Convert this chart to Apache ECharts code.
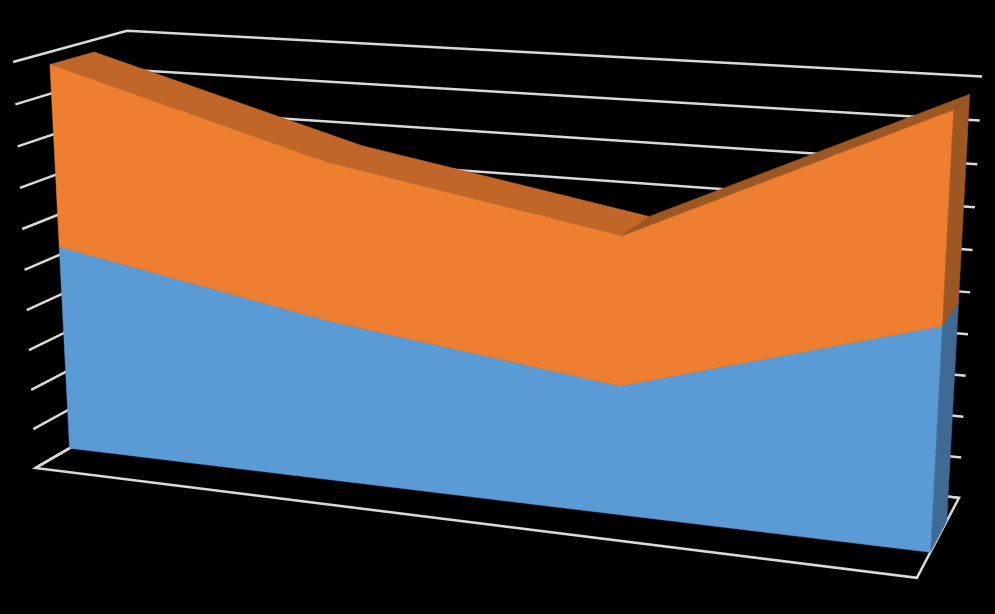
<!DOCTYPE html>
<html><head><meta charset="utf-8">
<style>html,body{margin:0;padding:0;background:#000}#c{width:995px;height:614px}</style>
<script src="https://cdn.jsdelivr.net/npm/echarts@6/dist/echarts.min.js"></script>
</head><body><div id="c"></div>
<script>
// Data
var categories = ['Category 1', 'Category 2', 'Category 3', 'Category 4'];
var seriesBlue = [5.2, 3.97, 3.1, 5.18];
var seriesOrange = [4.5, 3.83, 3.5, 4.69];
var axisTicks = [0, 1, 2, 3, 4, 5, 6, 7, 8, 9, 10];

// Camera: world (u along categories, v up, d into the page) -> page pixel, [.., weightX, weightY]
var AXIS_MAX = 10, D1 = 0.30, D2 = 0.69;
var anchors = [
  [0,0,0,36,468,3,3],[1,0,0,917,579,3,3],[1,0,1,959,500,6,6],[0,1,0,13,62,3,3],[0,1,1,127,30,3,3],
  [1,1,1,982,77,6,6],[0,0,D1,70,449,3,3],[1,0,D1,931,553,3,3],[1,0,D2,947,514,3,3],
  [1/3,0.39,D1,327,323,3,0],[1/3,0.775,D1,327,163,3,0],[2/3,0.305,D1,618,386,3,0],[2/3,0.65,D1,623,236,3,0],
  [1/3,0.775,D2,362,147,3,0],[2/3,0.65,D2,650,216,3,0]
];
function fitCamera(pts) {
  var n = 11, A = [], i, j, k;
  for (i = 0; i < n; i++) { A.push(new Array(n + 1).fill(0)); }
  function add(r, b, wt) {
    for (var a = 0; a < n; a++) { for (var c = 0; c < n; c++) { A[a][c] += wt * r[a] * r[c]; } A[a][n] += wt * r[a] * b; }
  }
  pts.forEach(function (p) {
    var u = p[0], v = p[1], d = p[2], x = p[3] / 1000, y = p[4] / 1000;
    add([u,v,d,1,0,0,0,0,-x*u,-x*v,-x*d], x, p[5]);
    add([0,0,0,0,u,v,d,1,-y*u,-y*v,-y*d], y, p[6]);
  });
  for (i = 0; i < n; i++) {
    var best = i;
    for (j = i + 1; j < n; j++) { if (Math.abs(A[j][i]) > Math.abs(A[best][i])) { best = j; } }
    var t = A[i]; A[i] = A[best]; A[best] = t;
    for (j = 0; j < n; j++) {
      if (j !== i) { var f = A[j][i] / A[i][i]; for (k = i; k <= n; k++) { A[j][k] -= f * A[i][k]; } }
    }
  }
  return A.map(function (r, idx) { return r[n] / r[idx]; });
}
var M = fitCamera(anchors);
function project(u, value, d) {
  var v = value / AXIS_MAX;
  var w = M[8]*u + M[9]*v + M[10]*d + 1;
  return [1000*(M[0]*u + M[1]*v + M[2]*d + M[3])/w, 1000*(M[4]*u + M[5]*v + M[6]*d + M[7])/w];
}
var last = categories.length - 1;
function catU(i) { return i / last; }

var WALL = '#D9D9D9';
function poly(api, pts, fill) {
  return { type: 'polygon', shape: { points: pts.map(function (p) { return api.coord(p); }) },
    style: { fill: fill, stroke: fill, lineWidth: 0.5 } };
}
function line(api, pts) {
  return { type: 'polyline', shape: { points: pts.map(function (p) { return api.coord(p); }) },
    style: { fill: null, stroke: WALL, lineWidth: 2.5, lineJoin: 'miter' } };
}
function renderWall(params, api) {
  var t = api.value(0);
  return line(api, [project(0, t, 0), project(0, t, 1), project(1, t, 1)]);
}
function renderFloor(params, api) {
  return line(api, [project(0,0,1), project(0,0,0), project(1,0,0), project(1,0,1), project(0,0,1)]);
}
function renderBand(lowArr, highArr, colors) {
  return function (params, api) {
    var i = api.value(0), ch = [], k, pts;
    if (i !== last) { return { type: 'group', children: [] }; }
    // top face across the falling categories
    pts = [];
    for (k = 0; k < last; k++) { pts.push(project(catU(k), highArr[k], D1)); }
    for (k = last - 1; k >= 0; k--) { pts.push(project(catU(k), highArr[k], D2)); }
    ch.push(poly(api, pts, colors.top));
    // top face of the rising last segment
    ch.push(poly(api, [project(catU(last-1),highArr[last-1],D1), project(catU(last-1),highArr[last-1],D2),
      project(1,highArr[last],D2), project(1,highArr[last],D1)], colors.side));
    // right end face
    ch.push(poly(api, [project(1,lowArr[last],D1), project(1,lowArr[last],D2), project(1,highArr[last],D2), project(1,highArr[last],D1)], colors.side));
    // front face
    pts = [];
    for (k = 0; k <= last; k++) { pts.push(project(catU(k), lowArr[k], D1)); }
    for (k = last; k >= 0; k--) { pts.push(project(catU(k), highArr[k], D1)); }
    ch.push(poly(api, pts, colors.front));
    return { type: 'group', children: ch };
  };
}
var catData = categories.map(function (c, i) { return [i]; });
var zeros = categories.map(function () { return 0; });
var totals = seriesBlue.map(function (b, i) { return b + seriesOrange[i]; });

echarts.init(document.getElementById('c'), null, { renderer: 'canvas' }).setOption({
  animation: false,
  backgroundColor: '#000000',
  grid: { left: 0, right: 0, top: 0, bottom: 0 },
  xAxis: { type: 'value', min: 0, max: 995, show: false },
  yAxis: { type: 'value', min: 0, max: 614, inverse: true, show: false },
  series: [
    { type: 'custom', name: 'Walls', renderItem: renderWall, data: axisTicks.map(function (t) { return [t]; }), encode: { x: [], y: [] }, silent: true },
    { type: 'custom', name: 'Floor', renderItem: renderFloor, data: [[0]], encode: { x: [], y: [] }, silent: true },
    { type: 'custom', name: 'Series 1', renderItem: renderBand(zeros, seriesBlue, { front: '#5B9BD5', top: '#3F6C95', side: '#3F6A94' }), data: catData, encode: { x: [], y: [] } },
    { type: 'custom', name: 'Series 2', renderItem: renderBand(seriesBlue, totals, { front: '#EE7F31', top: '#BF6628', side: '#9C5722' }), data: catData, encode: { x: [], y: [] } }
  ]
});
</script></body></html>
